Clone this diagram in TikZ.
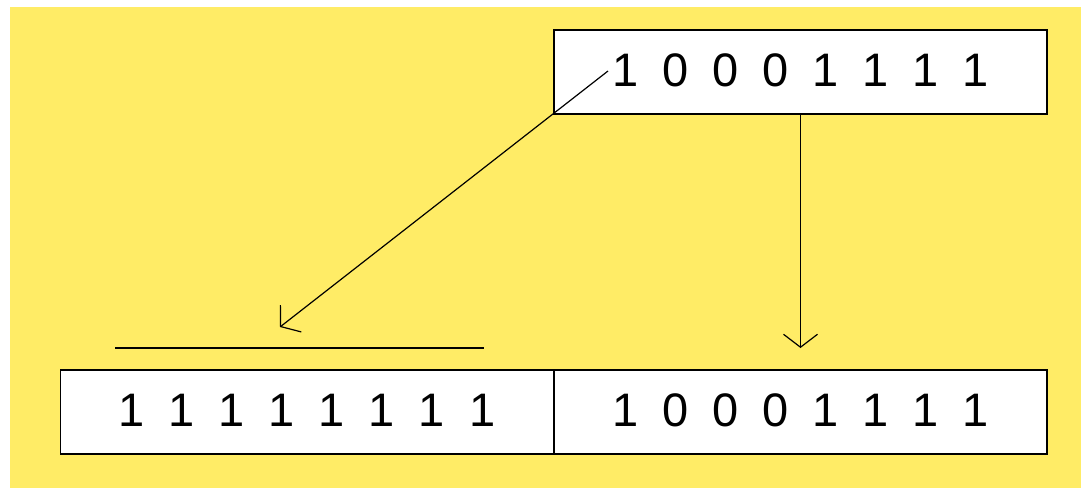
\documentclass[tikz,border=0pt]{standalone}
\usepackage{fontspec}
\newfontfamily\digitfont[WordSpace={1.83,0,0}]{Liberation Sans}
\usetikzlibrary{arrows.meta}
\definecolor{bgyellow}{RGB}{255,236,102}
\tikzset{
  bitbox/.style={draw=black, line width=1.4pt, fill=white, minimum width=493pt, minimum height=84pt, inner sep=0pt,
    font=\digitfont\fontsize{47}{47}\selectfont, text depth=0pt},
  conn/.style={draw=black, line width=1.2pt, -{Straight Barb[length=13pt,width=34pt,line width=1.2pt]}},
  plain/.style={draw=black, line width=1.2pt}
}
\begin{document}
\begin{tikzpicture}[x=1pt,y=-1pt]
\useasboundingbox (0,0) rectangle (1082,488);
\fill[bgyellow] (10,7) rectangle (1081,488);
\node[bitbox] (top) at (800.5,72) {\raisebox{3pt}{1 0 0 0 1 1 1 1}};
\node[bitbox] (bl) at (307,412) {\raisebox{3pt}{1 1 1 1 1 1 1 1}};
\node[bitbox] (br) at (800.5,412) {\raisebox{3pt}{1 0 0 0 1 1 1 1}};
\coordinate (dstart) at (608,71);
\coordinate (tipL) at (280,327);
\coordinate (tipR) at (800.5,348);
\coordinate (hl) at (115,348);
\coordinate (hr) at (484,348);
\draw[conn] (dstart) -- (tipL);
\draw[conn] (top.south) -- (tipR);
\draw[plain] (hl) -- (hr);
\end{tikzpicture}
\end{document}
